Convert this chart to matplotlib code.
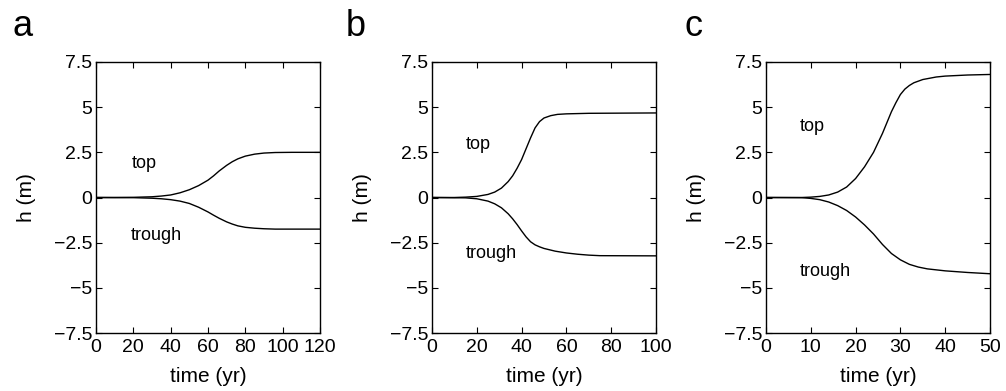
import matplotlib
matplotlib.use("Agg")
import matplotlib.pyplot as plt

plt.rcParams['font.family'] = ['Liberation Sans', 'DejaVu Sans']

# ---- data ----
panel_letters = ["a", "b", "c"]
xmax = [120, 100, 50]
xticks_a = [0, 20, 40, 60, 80, 100, 120]
xticks_b = [0, 20, 40, 60, 80, 100]
xticks_c = [0, 10, 20, 30, 40, 50]
yticks = [-7.5, -5, -2.5, 0, 2.5, 5, 7.5]
ytick_labels = ["\u22127.5", "\u22125", "\u22122.5", "0", "2.5", "5", "7.5"]

t_top_a = [0, 10, 20, 30, 35, 40, 45, 50, 55, 60, 63, 66, 70, 73, 76, 80, 85, 90, 96, 105, 120]
h_top_a = [0, 0, 0.01, 0.04, 0.08, 0.14, 0.26, 0.43, 0.66, 0.96, 1.2, 1.47, 1.78, 1.98, 2.14, 2.29, 2.40, 2.46, 2.49, 2.50, 2.50]
t_tr_a = [0, 20, 30, 35, 40, 45, 50, 55, 60, 63, 66, 70, 73, 76, 80, 85, 90, 96, 120]
h_tr_a = [0, -0.01, -0.04, -0.07, -0.12, -0.2, -0.33, -0.54, -0.8, -0.98, -1.15, -1.35, -1.47, -1.57, -1.65, -1.70, -1.73, -1.75, -1.75]

t_top_b = [0, 10, 15, 20, 25, 28, 31, 34, 36, 38, 40, 42, 44, 46, 48, 50, 53, 56, 60, 70, 100]
h_top_b = [0, 0, 0.02, 0.06, 0.17, 0.3, 0.52, 0.88, 1.2, 1.62, 2.1, 2.7, 3.3, 3.85, 4.2, 4.4, 4.53, 4.6, 4.63, 4.66, 4.68]
t_tr_b = [0, 15, 20, 25, 28, 31, 34, 36, 38, 40, 42, 44, 46, 48, 50, 55, 60, 65, 70, 75, 100]
h_tr_b = [0, -0.02, -0.07, -0.2, -0.35, -0.57, -0.9, -1.18, -1.5, -1.85, -2.18, -2.45, -2.62, -2.73, -2.82, -2.97, -3.07, -3.14, -3.19, -3.22, -3.23]

t_top_c = [0, 8, 10, 12, 14, 16, 18, 20, 22, 24, 26, 28, 29, 30, 31, 32, 33, 35, 38, 40, 45, 50]
h_top_c = [0, 0, 0.02, 0.06, 0.14, 0.3, 0.58, 1.05, 1.7, 2.5, 3.55, 4.75, 5.25, 5.7, 6.0, 6.2, 6.35, 6.53, 6.67, 6.72, 6.78, 6.81]
t_tr_c = [0, 8, 10, 12, 14, 16, 18, 20, 22, 24, 26, 28, 30, 32, 34, 36, 40, 45, 50]
h_tr_c = [0, -0.01, -0.05, -0.12, -0.25, -0.45, -0.72, -1.08, -1.52, -2.02, -2.6, -3.1, -3.45, -3.7, -3.85, -3.95, -4.06, -4.15, -4.22]

label_top_pos = [(19, 1.88), (15.2, 2.94), (7.6, 3.92)]
label_tr_pos = [(18.5, -2.09), (15.2, -3.1), (7.6, -4.12)]

# ---- layout ----
W, H = 1006, 391
fig = plt.figure(figsize=(W / 100, H / 100), dpi=100)

ax_left_px = [96, 432, 766]
ax_w_px = 224
ax_top_px = 62
ax_bot_px = 333
ax_h_px = ax_bot_px - ax_top_px
letter_x_px = [12, 346, 684]

xticks_all = [xticks_a, xticks_b, xticks_c]
tops = [(t_top_a, h_top_a), (t_top_b, h_top_b), (t_top_c, h_top_c)]
troughs = [(t_tr_a, h_tr_a), (t_tr_b, h_tr_b), (t_tr_c, h_tr_c)]

for i in range(3):
    ax = fig.add_axes([ax_left_px[i] / W, 1 - ax_bot_px / H, ax_w_px / W, ax_h_px / H])
    ax.plot(tops[i][0], tops[i][1], color='black', lw=1.0)
    ax.plot(troughs[i][0], troughs[i][1], color='black', lw=1.0)
    ax.set_xlim(0, xmax[i])
    ax.set_ylim(-7.5, 7.5)
    ax.set_xticks(xticks_all[i])
    ax.set_xticklabels([str(v) for v in xticks_all[i]])
    ax.set_yticks(yticks)
    ax.set_yticklabels(ytick_labels)
    ax.tick_params(direction='in', top=True, right=True, length=4, width=0.8,
                   labelsize=14, colors='black')
    ax.tick_params(axis='x', pad=4.5)
    ax.tick_params(axis='y', pad=2.5)
    for s in ax.spines.values():
        s.set_linewidth(1.0)
    ax.set_xlabel("time (yr)", fontsize=15)
    ax.xaxis.label.set_va('center')
    ax.xaxis.set_label_coords(0.5, -(376 - ax_bot_px) / ax_h_px)
    ax.set_ylabel("h (m)", fontsize=15)
    ax.yaxis.label.set_va('center')
    ax.yaxis.set_label_coords(-70 / ax_w_px, 0.5)
    ax.text(label_top_pos[i][0], label_top_pos[i][1], "top", fontsize=13, va='center', ha='left')
    ax.text(label_tr_pos[i][0], label_tr_pos[i][1], "trough", fontsize=13, va='center', ha='left')
    fig.text(letter_x_px[i] / W, 1 - 27 / H, panel_letters[i], fontsize=26, va='center', ha='left')

fig.savefig("out.png", dpi=100, facecolor='white')
